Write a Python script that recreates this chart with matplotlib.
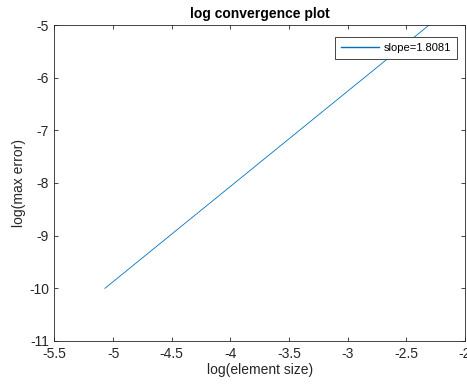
import matplotlib
matplotlib.use('Agg')
import matplotlib.pyplot as plt
import numpy as np

# values
log_h = [-5.07, -2.30]
log_err = [-10.0, -4.99]
slope_label = 'slope=1.8081'
xticks = [-5.5, -5, -4.5, -4, -3.5, -3, -2.5, -2]
yticks = [-11, -10, -9, -8, -7, -6, -5]

plt.rcParams['font.family'] = ['Liberation Sans', 'DejaVu Sans']
plt.rcParams['font.size'] = 10

fig = plt.figure(figsize=(4.67, 3.87), dpi=100)
ax = fig.add_axes([0.1167, 0.1189, 0.879, 0.8165])

ax.plot(log_h, log_err, color='#0072BD', linewidth=0.6, label=slope_label)

ax.set_xlim(-5.5, -2)
ax.set_ylim(-11, -5)
ax.set_xticks(xticks)
ax.set_xticklabels(['%g' % t for t in xticks])
ax.set_yticks(yticks)
ax.set_yticklabels(['%g' % t for t in yticks])

ax.tick_params(direction='in', top=True, right=True, length=3, width=0.6,
               colors='#262626', labelsize=10, pad=4)
for s in ax.spines.values():
    s.set_color('#262626')
    s.set_linewidth(0.6)

ax.set_xlabel('log(element size)', fontsize=10, color='#262626', labelpad=2)
ax.set_ylabel('log(max error)', fontsize=10, color='#262626', labelpad=2)
ax.set_title('log convergence plot', fontsize=10, fontweight='bold', pad=5)

leg = ax.legend(loc='upper right', bbox_to_anchor=(0.9805, 0.962), fontsize=8,
                fancybox=False, framealpha=1, edgecolor='#262626',
                handlelength=3.4, borderpad=0.55, handletextpad=0.4, borderaxespad=0)
leg.get_frame().set_linewidth(0.6)
for h in leg.legend_handles:
    h.set_linewidth(1.0)

fig.savefig('out.png', dpi=100)
